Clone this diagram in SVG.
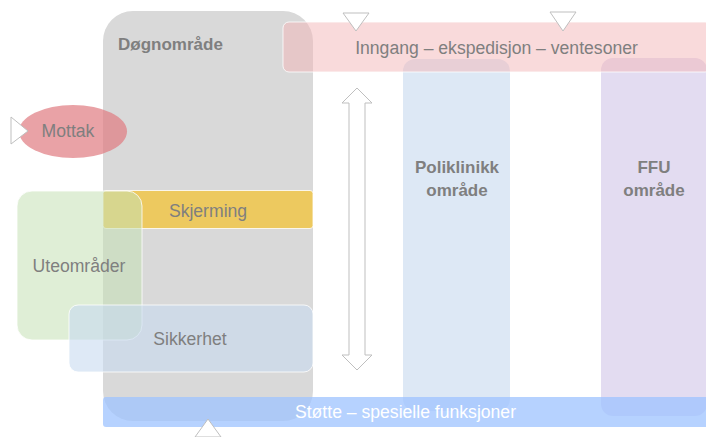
<svg xmlns="http://www.w3.org/2000/svg" width="706" height="437" viewBox="0 0 706 437">
  <style>
    .lbl { font-family: "Liberation Sans", Arial, sans-serif; font-size: 17.6px; fill: #7f7f7f; text-anchor: middle; }
    .bold { font-weight: bold; font-size: 17px; }
    .white { fill: #ffffff; }
    .edge { stroke: #ffffff; stroke-width: 1; stroke-opacity: 0.8; }
    .mark { fill: #ffffff; stroke: #bfbfbf; stroke-width: 1; }
  </style>
  <rect width="706" height="437" fill="#ffffff"/>

  <!-- 24-hour ward area -->
  <g id="dognomrade">
    <rect x="103" y="11" width="210" height="410" rx="30" fill="#d9d9d9"/>
    <text class="lbl bold" x="118" y="50" style="text-anchor:start">Døgnområde</text>
  </g>

  <!-- Outpatient clinic -->
  <g id="poliklinikk">
    <rect x="403" y="59" width="107" height="352" rx="12" fill="#dde8f5"/>
    <text class="lbl bold" x="457" y="173">Poliklinikk</text>
    <text class="lbl bold" x="457" y="196">område</text>
  </g>

  <!-- FFU -->
  <g id="ffu">
    <rect x="601" y="58" width="106" height="358" rx="12" fill="#e3dcf1"/>
    <text class="lbl bold" x="654" y="173">FFU</text>
    <text class="lbl bold" x="654" y="196">område</text>
  </g>

  <!-- Entrance band -->
  <g id="inngang">
    <rect x="283" y="22" width="428" height="50" rx="6" fill="#f4b6b8" fill-opacity="0.5" class="edge"/>
    <text class="lbl" x="496.5" y="54">Inngang – ekspedisjon – ventesoner</text>
  </g>

  <!-- Reception -->
  <g id="mottak">
    <ellipse cx="73" cy="131.5" rx="54" ry="26.5" fill="#e07a80" fill-opacity="0.7"/>
    <text class="lbl" x="68" y="137">Mottak</text>
  </g>

  <!-- Screening -->
  <g id="skjerming">
    <rect x="103" y="190.5" width="210" height="38" rx="3" fill="#edc95f" class="edge"/>
    <text class="lbl" x="208" y="217">Skjerming</text>
  </g>

  <!-- Outdoor areas -->
  <g id="uteomrader">
    <rect x="17" y="191" width="125" height="149" rx="15" fill="#c5e0b4" fill-opacity="0.55" class="edge"/>
    <text class="lbl" x="79" y="272">Uteområder</text>
  </g>

  <!-- Security -->
  <g id="sikkerhet">
    <rect x="69" y="305" width="244" height="67" rx="9" fill="#c8daf0" fill-opacity="0.6" class="edge"/>
    <text class="lbl" x="190" y="345">Sikkerhet</text>
  </g>

  <!-- Support band -->
  <g id="stotte">
    <rect x="103" y="397" width="608" height="30" rx="3" fill="#9dc3ff" fill-opacity="0.75"/>
    <text class="lbl white" x="405.5" y="418">Støtte – spesielle funksjoner</text>
  </g>

  <!-- Access markers and flow arrow -->
  <g id="connectors">
    <polygon class="mark" points="343,13 369,13 356,31"/>
    <polygon class="mark" points="550,12 576,12 563,31"/>
    <polygon class="mark" points="11,117 11,144 28,131"/>
    <polygon class="mark" points="195,437 221,437 208,419"/>
    <polygon class="mark" points="357,88 372,103 365,103 365,355 372,355 357,370 342,355 349,355 349,103 342,103"/>
  </g>
</svg>
